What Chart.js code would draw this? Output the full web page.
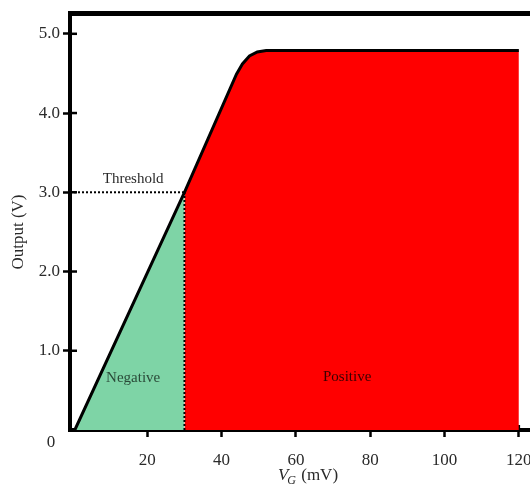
<!DOCTYPE html>
<html>
<head>
<meta charset="utf-8">
<script src="https://cdn.jsdelivr.net/npm/chart.js@4.4.1/dist/chart.umd.min.js"></script>
<style>
  html, body { margin: 0; padding: 0; background: #fff; }
  #wrap { width: 530px; height: 491px; }
</style>
</head>
<body>
<div id="wrap"><canvas id="chart"></canvas></div>
<script>
// transfer curve (V_G in mV, output in V)
const curveX = [0.5, 30, 44, 45.6, 47.5, 49.6, 52, 120];
const curveY = [0, 3.0, 4.49, 4.62, 4.72, 4.77, 4.79, 4.79];

const thresholdX = 30;
const thresholdY = 3.0;

const xTicks = [20, 40, 60, 80, 100, 120];
const yTicks = [1, 2, 3, 4, 5];

const regionLabels = ['Threshold', 'Negative', 'Positive'];
const regionLabelX = [16.2, 16.2, 73.8];
const regionLabelY = [3.17, 0.65, 0.67];

const xMin = -0.8, xMax = 123;
const yMin = 0, yMax = 5.26;

const serif = '"Liberation Serif", "DejaVu Serif", serif';
const textColor = '#2a2a2a';

const pts = curveX.map((x, i) => ({ x: x, y: curveY[i] }));
const negPts = pts.filter(p => p.x <= thresholdX);
const posPts = pts.filter(p => p.x >= thresholdX);

const extras = {
  id: 'extras',
  beforeDatasetsDraw(chart) {
    const { ctx, chartArea, scales } = chart;
    ctx.save();
    ctx.strokeStyle = '#000';
    ctx.lineWidth = 2.5;
    // inner half of the tick marks
    yTicks.forEach(v => {
      const y = scales.y.getPixelForValue(v);
      ctx.beginPath();
      ctx.moveTo(chartArea.left, y);
      ctx.lineTo(chartArea.left + 7, y);
      ctx.stroke();
    });
    xTicks.forEach(v => {
      const x = scales.x.getPixelForValue(v);
      ctx.beginPath();
      ctx.moveTo(x, chartArea.bottom);
      ctx.lineTo(x, chartArea.bottom - 5);
      ctx.stroke();
    });
    ctx.restore();
  },
  afterDraw(chart) {
    const { ctx, chartArea, scales } = chart;
    ctx.save();
    ctx.fillStyle = textColor;
    ctx.textAlign = 'center';
    ctx.textBaseline = 'middle';

    // shared origin label
    ctx.font = '17px ' + serif;
    ctx.fillText('0', chartArea.left - 19, chartArea.bottom + 13);

    // region labels
    ctx.font = '15px ' + serif;
    regionLabels.forEach((t, i) => {
      ctx.fillStyle = i === 1 ? '#2a4a38' : (i === 2 ? '#3a0000' : textColor);
      ctx.fillText(t, scales.x.getPixelForValue(regionLabelX[i]), scales.y.getPixelForValue(regionLabelY[i]));
    });

    // y title
    ctx.fillStyle = textColor;
    ctx.save();
    ctx.translate(19, 232);
    ctx.rotate(-Math.PI / 2);
    ctx.font = '17px ' + serif;
    ctx.fillText('Output (V)', 0, 0);
    ctx.restore();

    // x title: V_G (mV)
    ctx.textAlign = 'left';
    const cx = (chartArea.left + chart.width) / 2 + 8;
    const ty = chart.height - 15;
    ctx.font = 'italic 17px ' + serif;
    const wV = ctx.measureText('V').width;
    ctx.font = 'italic 12px ' + serif;
    const wG = ctx.measureText('G').width;
    ctx.font = '17px ' + serif;
    const wRest = ctx.measureText(' (mV)').width;
    let x0 = cx - (wV + wG + wRest) / 2;
    ctx.font = 'italic 17px ' + serif;
    ctx.fillText('V', x0, ty);
    ctx.font = 'italic 12px ' + serif;
    ctx.fillText('G', x0 + wV - 1, ty + 5);
    ctx.font = '17px ' + serif;
    ctx.fillText(' (mV)', x0 + wV + wG, ty);
    ctx.restore();
  }
};

new Chart(document.getElementById('chart'), {
  type: 'line',
  data: {
    datasets: [
      {
        label: 'curve',
        data: pts,
        borderColor: '#000',
        borderWidth: 3,
        pointRadius: 0,
        fill: false,
        order: 0
      },
      {
        label: 'threshold level',
        data: [{ x: xMin, y: thresholdY }, { x: thresholdX, y: thresholdY }],
        borderColor: '#000',
        borderWidth: 2,
        borderDash: [2, 2],
        pointRadius: 0,
        fill: false,
        order: 1
      },
      {
        label: 'threshold gate',
        data: [{ x: thresholdX, y: 0 }, { x: thresholdX, y: thresholdY }],
        borderColor: '#000',
        borderWidth: 2,
        borderDash: [2, 2],
        pointRadius: 0,
        fill: false,
        order: 1
      },
      {
        label: 'Negative',
        data: negPts,
        borderWidth: 0,
        borderColor: 'rgba(0,0,0,0)',
        backgroundColor: '#7ed4a6',
        pointRadius: 0,
        fill: 'origin',
        order: 2
      },
      {
        label: 'Positive',
        data: posPts,
        borderWidth: 0,
        borderColor: 'rgba(0,0,0,0)',
        backgroundColor: '#ff0000',
        pointRadius: 0,
        fill: 'origin',
        order: 2
      }
    ]
  },
  options: {
    responsive: true,
    maintainAspectRatio: false,
    animation: false,
    layout: { padding: { top: 11, right: 0, left: 0, bottom: 0 } },
    plugins: { legend: { display: false }, tooltip: { enabled: false } },
    scales: {
      x: {
        type: 'linear',
        min: xMin,
        max: xMax,
        afterBuildTicks: s => { s.ticks = xTicks.map(v => ({ value: v })); },
        afterFit: s => { s.height = 61; s.paddingRight = 0; s.paddingLeft = 0; },
        grid: { drawOnChartArea: false, tickLength: 7, tickWidth: 2.5, tickColor: '#000' },
        border: { color: '#000', width: 4 },
        ticks: { font: { family: serif, size: 17 }, color: textColor, padding: 13, maxRotation: 0 }
      },
      xTop: {
        type: 'linear',
        position: 'top',
        min: xMin,
        max: xMax,
        afterFit: s => { s.height = 0; },
        grid: { drawOnChartArea: false, drawTicks: false },
        border: { color: '#000', width: 5 },
        ticks: { display: false }
      },
      y: {
        min: yMin,
        max: yMax,
        afterBuildTicks: s => { s.ticks = yTicks.map(v => ({ value: v })); },
        afterFit: s => { s.width = 70; },
        grid: { drawOnChartArea: false, tickLength: 7, tickWidth: 2.5, tickColor: '#000' },
        border: { color: '#000', width: 4 },
        ticks: { font: { family: serif, size: 17 }, color: textColor, padding: 3, callback: v => v.toFixed(1) }
      }
    }
  },
  plugins: [extras]
});
</script>
</body>
</html>
